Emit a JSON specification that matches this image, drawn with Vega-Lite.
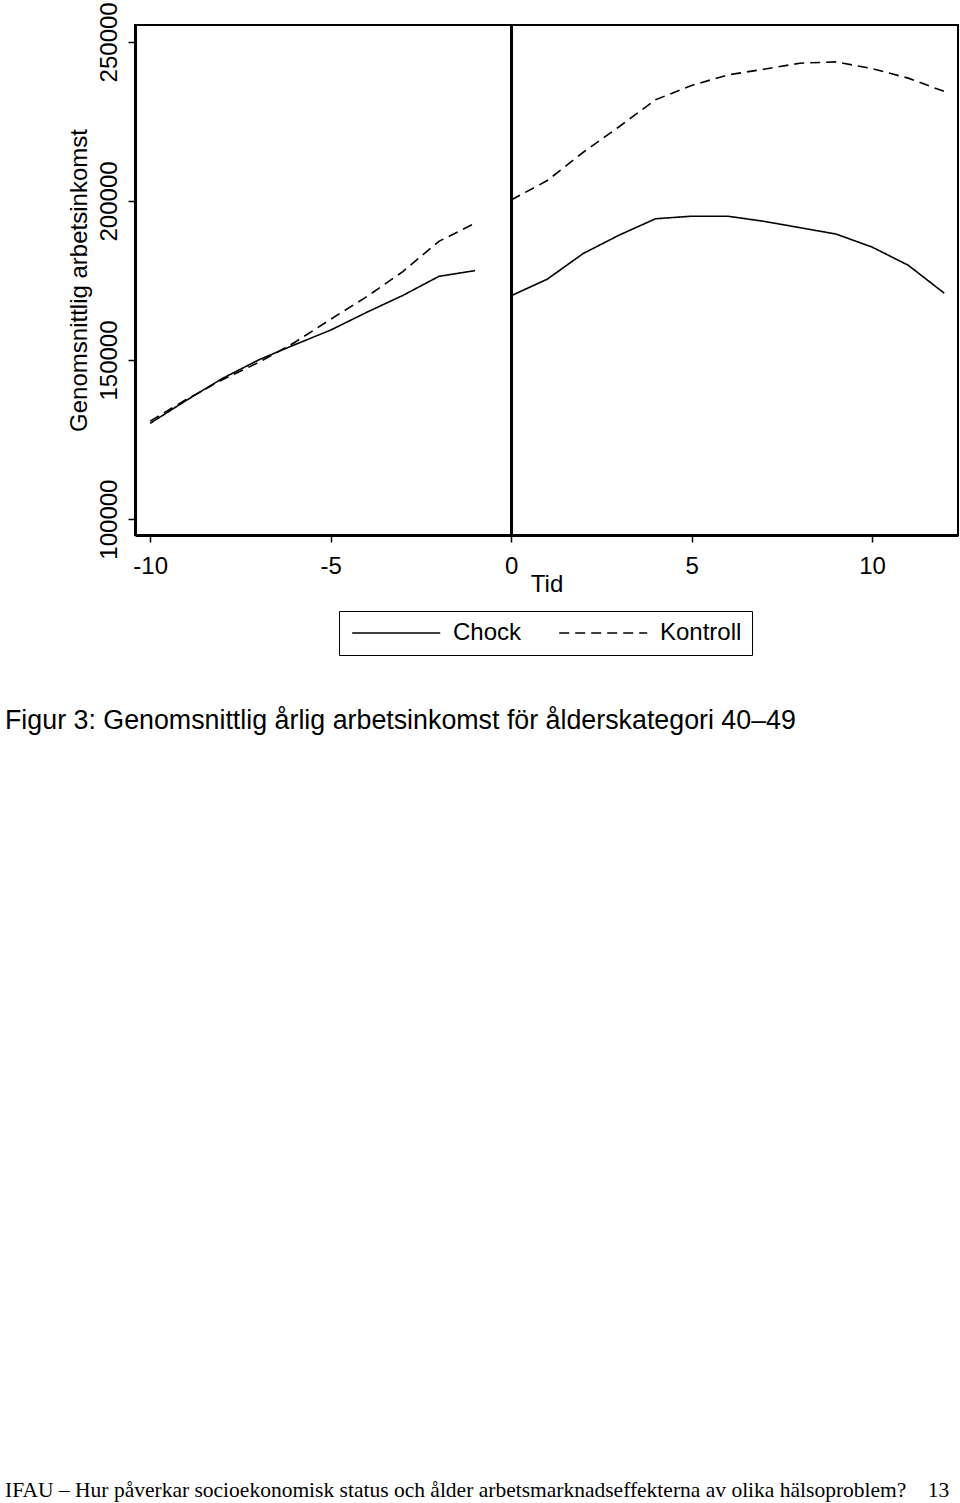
{
  "$schema": "https://vega.github.io/schema/vega-lite/v6.json",
  "width": 823,
  "height": 510,
  "autosize": {"type": "none"},
  "padding": {"left": 135, "top": 25, "right": 2, "bottom": 968},
  "background": "white",
  "config": {
    "font": "Liberation Sans",
    "view": {"stroke": "black", "strokeWidth": 2},
    "axis": {"grid": false, "domainColor": "black", "tickColor": "black", "labelColor": "black", "titleColor": "black", "labelFont": "Liberation Sans", "titleFont": "Liberation Sans"},
    "legend": {"labelFont": "Liberation Sans"}
  },
  "title": {
    "text": "Figur 3: Genomsnittlig årlig arbetsinkomst för ålderskategori 40–49",
    "subtitle": "IFAU – Hur påverkar socioekonomisk status och ålder arbetsmarknadseffekterna av olika hälsoproblem?\u00a0\u00a0\u00a0\u00a013",
    "orient": "bottom",
    "anchor": "start",
    "frame": "group",
    "dx": -130,
    "offset": 52,
    "font": "Liberation Sans",
    "fontSize": 26.8,
    "fontWeight": "normal",
    "color": "black",
    "subtitleFont": "Liberation Serif",
    "subtitleFontSize": 21.5,
    "subtitleColor": "black",
    "subtitlePadding": 746
  },
  "data": {
    "values": [
      {"t": -10, "v": 130100, "grupp": "Chock", "period": "pre"},
      {"t": -9, "v": 137300, "grupp": "Chock", "period": "pre"},
      {"t": -8, "v": 144200, "grupp": "Chock", "period": "pre"},
      {"t": -7, "v": 150000, "grupp": "Chock", "period": "pre"},
      {"t": -6, "v": 154800, "grupp": "Chock", "period": "pre"},
      {"t": -5, "v": 159400, "grupp": "Chock", "period": "pre"},
      {"t": -4, "v": 165000, "grupp": "Chock", "period": "pre"},
      {"t": -3, "v": 170300, "grupp": "Chock", "period": "pre"},
      {"t": -2, "v": 176300, "grupp": "Chock", "period": "pre"},
      {"t": -1, "v": 178100, "grupp": "Chock", "period": "pre"},
      {"t": 0, "v": 170200, "grupp": "Chock", "period": "post"},
      {"t": 1, "v": 175400, "grupp": "Chock", "period": "post"},
      {"t": 2, "v": 183500, "grupp": "Chock", "period": "post"},
      {"t": 3, "v": 189300, "grupp": "Chock", "period": "post"},
      {"t": 4, "v": 194400, "grupp": "Chock", "period": "post"},
      {"t": 5, "v": 195200, "grupp": "Chock", "period": "post"},
      {"t": 6, "v": 195200, "grupp": "Chock", "period": "post"},
      {"t": 7, "v": 193600, "grupp": "Chock", "period": "post"},
      {"t": 8, "v": 191600, "grupp": "Chock", "period": "post"},
      {"t": 9, "v": 189600, "grupp": "Chock", "period": "post"},
      {"t": 10, "v": 185500, "grupp": "Chock", "period": "post"},
      {"t": 11, "v": 179800, "grupp": "Chock", "period": "post"},
      {"t": 12, "v": 171000, "grupp": "Chock", "period": "post"},
      {"t": -10, "v": 130800, "grupp": "Kontroll", "period": "pre"},
      {"t": -9, "v": 137600, "grupp": "Kontroll", "period": "pre"},
      {"t": -8, "v": 143800, "grupp": "Kontroll", "period": "pre"},
      {"t": -7, "v": 149200, "grupp": "Kontroll", "period": "pre"},
      {"t": -6, "v": 155500, "grupp": "Kontroll", "period": "pre"},
      {"t": -5, "v": 162800, "grupp": "Kontroll", "period": "pre"},
      {"t": -4, "v": 169900, "grupp": "Kontroll", "period": "pre"},
      {"t": -3, "v": 177800, "grupp": "Kontroll", "period": "pre"},
      {"t": -2, "v": 187300, "grupp": "Kontroll", "period": "pre"},
      {"t": -1, "v": 193000, "grupp": "Kontroll", "period": "pre"},
      {"t": 0, "v": 200300, "grupp": "Kontroll", "period": "post"},
      {"t": 1, "v": 206400, "grupp": "Kontroll", "period": "post"},
      {"t": 2, "v": 215300, "grupp": "Kontroll", "period": "post"},
      {"t": 3, "v": 223400, "grupp": "Kontroll", "period": "post"},
      {"t": 4, "v": 231800, "grupp": "Kontroll", "period": "post"},
      {"t": 5, "v": 236300, "grupp": "Kontroll", "period": "post"},
      {"t": 6, "v": 239600, "grupp": "Kontroll", "period": "post"},
      {"t": 7, "v": 241400, "grupp": "Kontroll", "period": "post"},
      {"t": 8, "v": 243300, "grupp": "Kontroll", "period": "post"},
      {"t": 9, "v": 243700, "grupp": "Kontroll", "period": "post"},
      {"t": 10, "v": 241600, "grupp": "Kontroll", "period": "post"},
      {"t": 11, "v": 238600, "grupp": "Kontroll", "period": "post"},
      {"t": 12, "v": 234400, "grupp": "Kontroll", "period": "post"}
    ]
  },
  "layer": [
    {
      "mark": {"type": "rule", "color": "black", "strokeWidth": 2},
      "encoding": {"x": {"datum": 0, "type": "quantitative"}}
    },
    {
      "mark": {"type": "line", "color": "black", "strokeWidth": 1.6, "clip": true},
      "encoding": {
        "x": {
          "field": "t", "type": "quantitative",
          "scale": {"domain": [-10.42, 12.38], "nice": false, "zero": false},
          "axis": {
            "values": [-10, -5, 0, 5, 10], "title": "Tid",
            "labelExpr": "toString(datum.value)",
            "domainWidth": 3, "tickSize": 7, "tickWidth": 1.5,
            "labelFontSize": 24, "labelPadding": 12, "labelFlush": false,
            "titleFontSize": 24, "titleFontWeight": "normal", "titlePadding": -6
          }
        },
        "y": {
          "field": "v", "type": "quantitative",
          "scale": {"domain": [95000, 255300], "nice": false, "zero": false},
          "axis": {
            "values": [100000, 150000, 200000, 250000], "format": "d",
            "title": "Genomsnittlig arbetsinkomst",
            "domainWidth": 3, "tickSize": 7, "tickWidth": 1.5,
            "labelFontSize": 24, "labelAngle": -90, "labelAlign": "center", "labelBaseline": "alphabetic",
            "labelPadding": 12, "labelFlush": false,
            "titleFontSize": 24, "titleFontWeight": "normal", "titlePadding": 6
          }
        },
        "detail": {"field": "period", "type": "nominal"},
        "strokeDash": {
          "field": "grupp", "type": "nominal",
          "scale": {"domain": ["Chock", "Kontroll"], "range": [[1, 0], [10, 6]]},
          "legend": {
            "title": null, "orient": "none", "legendX": 204, "legendY": 586,
            "direction": "horizontal",
            "symbolType": "M-1,0L9,0", "symbolSize": 310, "symbolStrokeWidth": 1.6, "symbolStrokeColor": "black",
            "labelFontSize": 24, "labelColor": "black", "labelOffset": 80,
            "columnPadding": 33, "padding": 10,
            "strokeColor": "black"
          }
        }
      }
    }
  ]
}
